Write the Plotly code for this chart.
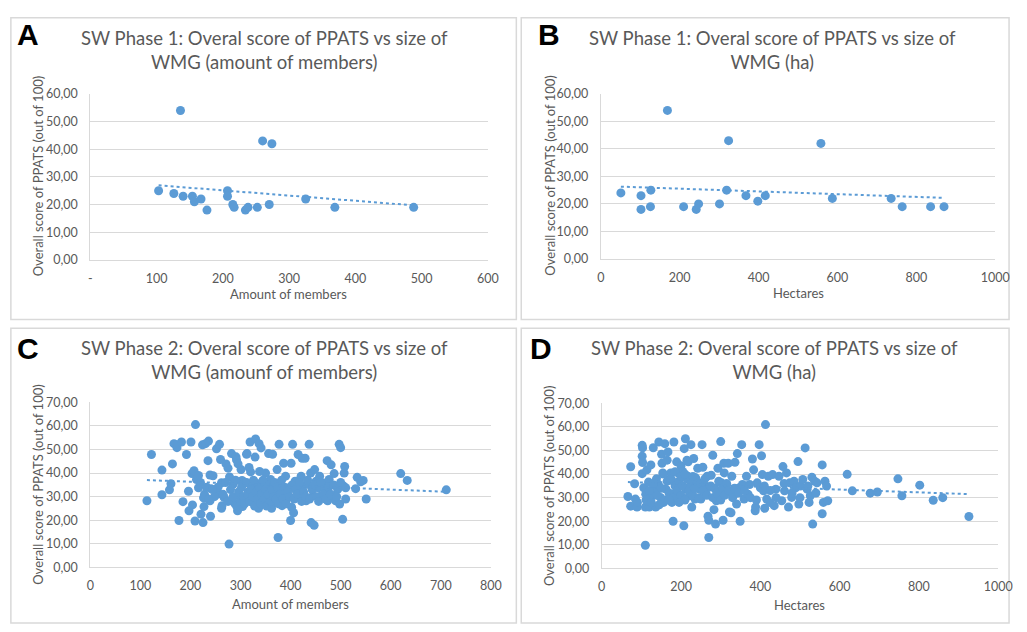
import numpy as np
import plotly.graph_objects as go

# ---------------- data ----------------
# Panel A: Phase 1, members vs score
a_members = [103, 136, 126, 140, 154, 157, 167, 176, 207, 207, 215, 217, 234, 238, 252, 260, 270, 274, 325, 369, 488]
a_score = [25, 54, 24, 23, 23, 21, 22, 18, 25, 23, 20, 19, 18, 19, 19, 43, 20, 42, 22, 19, 19]

# Panel B: Phase 1, hectares vs score
b_hectares = [51, 102, 102, 127, 126, 169, 210, 242, 248, 301, 319, 324, 368, 398, 417, 558, 587, 736, 764, 836, 870]
b_score = [24, 23, 18, 25, 19, 54, 19, 18, 20, 20, 25, 43, 23, 21, 23, 42, 22, 22, 19, 19, 19]

# Panel C: Phase 2, members vs score
c_members = [113, 122, 143, 143, 158, 161, 164, 167, 173, 173, 182, 177, 185, 192, 196, 197, 201, 203, 204, 207,
             210, 209, 212, 216, 221, 224, 225, 226, 227, 230, 236, 235, 240, 239, 239, 241, 245, 252, 258, 260,
             256, 262, 263, 262, 267, 271, 277, 275, 278, 282, 285, 288, 291, 292, 294, 295, 298, 301, 303, 304,
             309, 312, 313, 315, 316, 317, 319, 320, 322, 325, 329, 330, 334, 336, 337, 338, 341, 343, 347, 350,
             353, 356, 360, 362, 364, 366, 370, 373, 375, 377, 379, 383, 386, 388, 390, 393, 397, 400, 401, 402,
             404, 406, 409, 412, 415, 419, 421, 423, 425, 429, 431, 435, 437, 440, 441, 447, 445, 448, 451, 455,
             458, 461, 464, 468, 473, 474, 477, 481, 484, 487, 490, 494, 497, 500, 498, 504, 506, 507, 508, 510,
             510, 530, 533, 540, 545, 551, 620, 633, 711,
             248, 255, 265, 270, 275, 280, 285, 290, 292, 296, 300, 302, 306, 308, 312, 314, 318, 320, 324, 326,
             328, 332, 334, 338, 340, 342, 345, 348, 350, 352, 355, 358, 361, 363, 366, 368, 371, 374, 376, 380,
             382, 385, 388, 391, 394, 398, 403, 407, 410, 414, 418, 422, 426, 430, 434, 438, 443, 447, 452, 456,
             460, 466, 470, 476, 480, 486, 492, 500, 216, 220, 228, 232, 236, 244]
c_score = [28.3, 47.9, 41.3, 30.8, 32.9, 35.5, 43.9, 52.5, 52.0, 50.8, 53.2, 19.9, 27.9, 47.9, 32.3, 24.0, 53.2, 39.8, 26.5, 41.0,
           60.6, 19.7, 37.3, 33.8, 22.6, 52.0, 19.0, 29.5, 25.8, 52.5, 53.6, 45.3, 21.7, 39.2, 28.3, 33.4, 38.9, 50.3, 52.2, 45.8,
           31.2, 25.1, 26.2, 35.9, 29.7, 43.9, 9.9, 42.1, 38.4, 48.3, 35.2, 27.3, 46.9, 45.6, 24.0, 43.9, 30.4, 41.5, 36.9, 25.8,
           35.9, 48.0, 48.3, 32.0, 29.5, 42.4, 53.2, 40.5, 33.8, 27.6, 46.8, 54.5, 35.5, 25.1, 52.5, 40.7, 50.7, 35.9, 31.1, 40.0,
           28.3, 48.3, 37.3, 25.1, 48.0, 32.4, 27.6, 41.5, 12.7, 52.2, 35.9, 26.2, 44.2, 31.8, 38.7, 29.3, 33.8, 19.9, 44.2, 25.5,
           52.2, 23.2, 36.6, 32.4, 47.9, 29.7, 38.7, 46.3, 34.5, 46.3, 28.3, 35.2, 52.2, 40.0, 19.0, 17.9, 30.4, 41.5, 36.6, 33.8,
           38.7, 30.4, 35.9, 33.1, 45.3, 28.3, 37.3, 43.5, 30.4, 39.8, 28.3, 33.1, 52.2, 50.8, 26.9, 20.4, 34.5, 40.0, 42.8, 29.0,
           33.8, 33.4, 38.2, 36.3, 36.9, 29.0, 39.8, 36.9, 32.9,
           30, 34, 31, 36, 28, 33, 30, 37, 26, 32, 28, 34, 30, 27, 36, 31, 28, 33, 30, 37,
           26, 32, 29, 34, 27, 31, 37, 29, 33, 26, 31, 35, 28, 33, 30, 36, 29, 34, 27, 31,
           37, 29, 34, 27, 32, 30, 35, 29, 33, 31, 36, 28, 32, 30, 37, 29, 33, 35, 30, 28,
           36, 31, 29, 34, 31, 35, 30, 36, 39, 36, 31, 34, 29, 33]

# Panel D: Phase 2, hectares vs score
d_hectares = [66, 73, 73, 83, 85, 89, 90, 102, 103, 102, 103, 102, 106, 110, 110, 111, 114, 118, 120, 124,
              128, 130, 133, 136, 138, 143, 144, 148, 151, 152, 154, 156, 159, 162, 165, 167, 169, 171, 174, 177,
              180, 182, 184, 187, 189, 192, 195, 197, 200, 204, 207, 208, 211, 212, 215, 217, 218, 221, 225, 227,
              229, 232, 235, 237, 242, 246, 250, 253, 255, 258, 262, 266, 268, 270, 270, 273, 276, 280, 283, 287,
              289, 293, 296, 300, 302, 306, 308, 309, 314, 319, 322, 326, 328, 332, 336, 340, 342, 347, 349, 353,
              355, 359, 365, 369, 373, 380, 383, 387, 388, 392, 397, 400, 403, 405, 408, 411, 413, 416, 420, 424,
              431, 435, 439, 447, 454, 457, 461, 466, 471, 474, 479, 485, 489, 495, 497, 501, 507, 513, 518, 523,
              526, 530, 532, 537, 543, 556, 556, 559, 563, 567, 570, 619, 632, 677, 695, 747, 757, 802, 836, 860, 926,
              120, 130, 140, 150, 160, 165, 170, 175, 180, 185, 190, 195, 200, 205, 210, 215, 220, 225, 230, 235,
              240, 245, 250, 255, 260, 265, 275, 280, 285, 290, 295, 300, 305, 310, 315, 320, 330, 335, 345, 360,
              375, 390, 410, 425, 440, 460, 480, 500, 520, 540, 112, 125, 145, 170, 195, 155, 185, 200, 210, 230]
d_score = [30.5, 43.1, 26.4, 35.9, 29.4, 26.0, 28.0, 52.2, 51.1, 47.6, 44.9, 40.2, 34.2, 9.8, 26.0, 31.5, 41.8, 36.6, 26.0, 43.9,
           30.8, 51.2, 33.6, 26.0, 38.0, 35.6, 53.6, 30.1, 48.4, 44.6, 40.5, 28.0, 52.9, 33.6, 45.9, 49.4, 37.7, 30.1, 40.5, 28.0,
           20.0, 53.6, 36.3, 32.2, 45.2, 40.5, 28.7, 34.9, 43.5, 41.1, 18.1, 50.8, 55.0, 33.6, 45.9, 39.1, 45.2, 30.8, 52.5, 26.0,
           36.3, 46.6, 29.4, 38.4, 42.5, 33.6, 29.4, 52.5, 42.9, 35.6, 32.2, 39.1, 22.1, 13.1, 20.4, 34.5, 39.5, 48.0, 24.9, 18.8,
           28.7, 42.5, 31.5, 53.8, 36.3, 20.4, 44.6, 40.5, 32.9, 44.6, 23.9, 23.6, 39.1, 30.8, 45.0, 27.3, 48.7, 34.2, 20.0, 52.5,
           35.6, 29.4, 39.1, 31.5, 35.6, 46.4, 41.8, 24.4, 26.0, 36.3, 52.5, 34.2, 47.8, 39.8, 32.9, 25.5, 61.0, 29.4, 39.1, 28.0,
           39.8, 26.6, 33.6, 39.1, 28.7, 43.2, 32.9, 40.5, 26.0, 36.3, 30.1, 37.0, 34.2, 45.3, 27.3, 34.9, 37.7, 51.1, 33.6, 28.0,
           30.8, 38.7, 18.8, 37.0, 36.3, 43.9, 23.2, 28.0, 37.0, 34.9, 28.7, 39.9, 32.9, 31.9, 32.4, 38.0, 30.8, 35.3, 28.9, 30.0, 22.0,
           33, 36, 31, 34, 29, 37, 32, 38, 30, 35, 33, 37, 31, 35, 29, 38, 33, 36, 31, 34,
           37, 30, 36, 33, 38, 31, 35, 30, 34, 32, 37, 29, 34, 31, 36, 33, 30, 34, 32, 33,
           30, 29, 35, 33, 30, 36, 32, 30, 35, 32, 29, 28, 27, 29, 28, 40, 41, 39, 40, 39]

titles = ["SW Phase 1: Overal score of PPATS vs size of<br>WMG (amount of members)",
          "SW Phase 1: Overal score of PPATS vs size of<br>WMG (ha)",
          "SW Phase 2: Overal score of PPATS vs size of<br>WMG (amounf of members)",
          "SW Phase 2: Overal score of PPATS vs size of<br>WMG (ha)"]
letters = ["A", "B", "C", "D"]
x_titles = ["Amount of members", "Hectares", "Amount of members", "Hectares"]
y_title = "Overall score of PPATS (out of 100)"

a_xticks = [0, 100, 200, 300, 400, 500, 600]
a_xticktext = ["-", "100", "200", "300", "400", "500", "600"]
b_xticks = [0, 200, 400, 600, 800, 1000]
c_xticks = [0, 100, 200, 300, 400, 500, 600, 700, 800]
d_xticks = [0, 200, 400, 600, 800, 1000]
y6_ticks = [0, 10, 20, 30, 40, 50, 60]
y7_ticks = [0, 10, 20, 30, 40, 50, 60, 70]
y6_text = ["0,00", "10,00", "20,00", "30,00", "40,00", "50,00", "60,00"]
y7_text = ["0,00", "10,00", "20,00", "30,00", "40,00", "50,00", "60,00", "70,00"]

# ---------------- layout helpers ----------------
W, H = 1027, 632
BLUE = "#5B9BD5"
GRAY = "#595959"
GRID = "#D9D9D9"
FONT = "Lato"

def px(x):
    return x / W

def py(y):
    return 1 - y / H

panels = [
    dict(x=a_members, y=a_score, xd=(88, 493), yd=(258, 88), xr=600, yr=60,
         xt=a_xticks, xtt=a_xticktext, yt=y6_ticks, ytt=y6_text,
         box=(7, 10, 522, 319), letter=(11, 27), title=(265, 43), xtitle=(290, 293), ytitle=(35, 172)),
    dict(x=b_hectares, y=b_score, xd=(608, 1010), yd=(257, 88), xr=1000, yr=60,
         xt=b_xticks, xtt=[str(v) for v in b_xticks], yt=y6_ticks, ytt=y6_text,
         box=(527, 10, 1024, 319), letter=(542, 27), title=(783, 43), xtitle=(809, 292), ytitle=(556, 172)),
    dict(x=c_members, y=c_score, xd=(88, 496), yd=(573, 404), xr=800, yr=70,
         xt=c_xticks, xtt=[str(v) for v in c_xticks], yt=y7_ticks, ytt=y7_text,
         box=(7, 328, 522, 630), letter=(11, 349), title=(265, 361), xtitle=(292, 611), ytitle=(35, 488)),
    dict(x=d_hectares, y=d_score, xd=(609, 1013), yd=(574, 405), xr=1000, yr=70,
         xt=d_xticks, xtt=[str(v) for v in d_xticks], yt=y7_ticks, ytt=y7_text,
         box=(527, 328, 1024, 630), letter=(534, 349), title=(785, 361), xtitle=(811, 612), ytitle=(556, 490)),
]

fig = go.Figure()
layout = dict(width=W, height=H, margin=dict(l=0, r=0, t=0, b=0),
              paper_bgcolor="white", plot_bgcolor="white", showlegend=False,
              font=dict(family=FONT, color=GRAY, size=12))
annotations = []
shapes = []

for i, p in enumerate(panels):
    n = "" if i == 0 else str(i + 1)
    xa, ya = "x" + n, "y" + n
    xs = np.array(p["x"], dtype=float)
    ys = np.array(p["y"], dtype=float)
    fig.add_trace(go.Scatter(x=xs, y=ys, mode="markers", xaxis=xa, yaxis=ya,
                             marker=dict(color=BLUE, size=9, line=dict(width=0)),
                             hoverinfo="x+y"))
    k, b = np.polyfit(xs, ys, 1)
    tx = np.array([xs.min(), xs.max()])
    fig.add_trace(go.Scatter(x=tx, y=k * tx + b, mode="lines", xaxis=xa, yaxis=ya,
                             line=dict(color=BLUE, width=2, dash="dot"), hoverinfo="skip"))
    layout["xaxis" + n] = dict(domain=[px(p["xd"][0]), px(p["xd"][1])], range=[0, p["xr"]],
                               anchor=ya, tickvals=p["xt"], ticktext=p["xtt"],
                               showgrid=False, zeroline=False, showline=True, linecolor=GRID, linewidth=1,
                               ticks="", ticklabelstandoff=7,
                               tickfont=dict(family=FONT, size=12.5, color=GRAY), fixedrange=True)
    layout["yaxis" + n] = dict(domain=[py(p["yd"][0]), py(p["yd"][1])], range=[0, p["yr"]],
                               anchor=xa, tickvals=p["yt"], ticktext=p["ytt"],
                               showgrid=True, gridcolor=GRID, gridwidth=1, zeroline=False,
                               showline=True, linecolor=GRID, linewidth=1,
                               ticks="", ticklabelstandoff=9,
                               tickfont=dict(family=FONT, size=12.5, color=GRAY), fixedrange=True)
    bx = p["box"]
    shapes.append(dict(type="rect", xref="paper", yref="paper",
                       x0=px(bx[0]), x1=px(bx[2]), y0=py(bx[3]), y1=py(bx[1]),
                       line=dict(color=GRID, width=1.5), fillcolor="rgba(0,0,0,0)", layer="below"))
    annotations.append(dict(text="<b>" + letters[i] + "</b>", xref="paper", yref="paper",
                            x=px(p["letter"][0]), y=py(p["letter"][1]), xanchor="left", yanchor="middle",
                            showarrow=False, font=dict(family="Liberation Sans", size=30, color="black")))
    annotations.append(dict(text=titles[i], xref="paper", yref="paper",
                            x=px(p["title"][0]), y=py(p["title"][1]), xanchor="center", yanchor="middle",
                            showarrow=False, align="center",
                            font=dict(family=FONT, size=18.5, color=GRAY)))
    annotations.append(dict(text=x_titles[i], xref="paper", yref="paper",
                            x=px(p["xtitle"][0]), y=py(p["xtitle"][1]), xanchor="center", yanchor="middle",
                            showarrow=False, font=dict(family=FONT, size=13, color=GRAY)))
    annotations.append(dict(text=y_title, xref="paper", yref="paper", textangle=-90,
                            x=px(p["ytitle"][0]), y=py(p["ytitle"][1]), xanchor="center", yanchor="middle",
                            showarrow=False, font=dict(family=FONT, size=13, color=GRAY)))

layout["annotations"] = annotations
layout["shapes"] = shapes
fig.update_layout(**layout)
fig.write_html("out.html", config={"displayModeBar": False},
               post_script="document.body.style.margin='0';document.body.style.overflow='hidden';")
